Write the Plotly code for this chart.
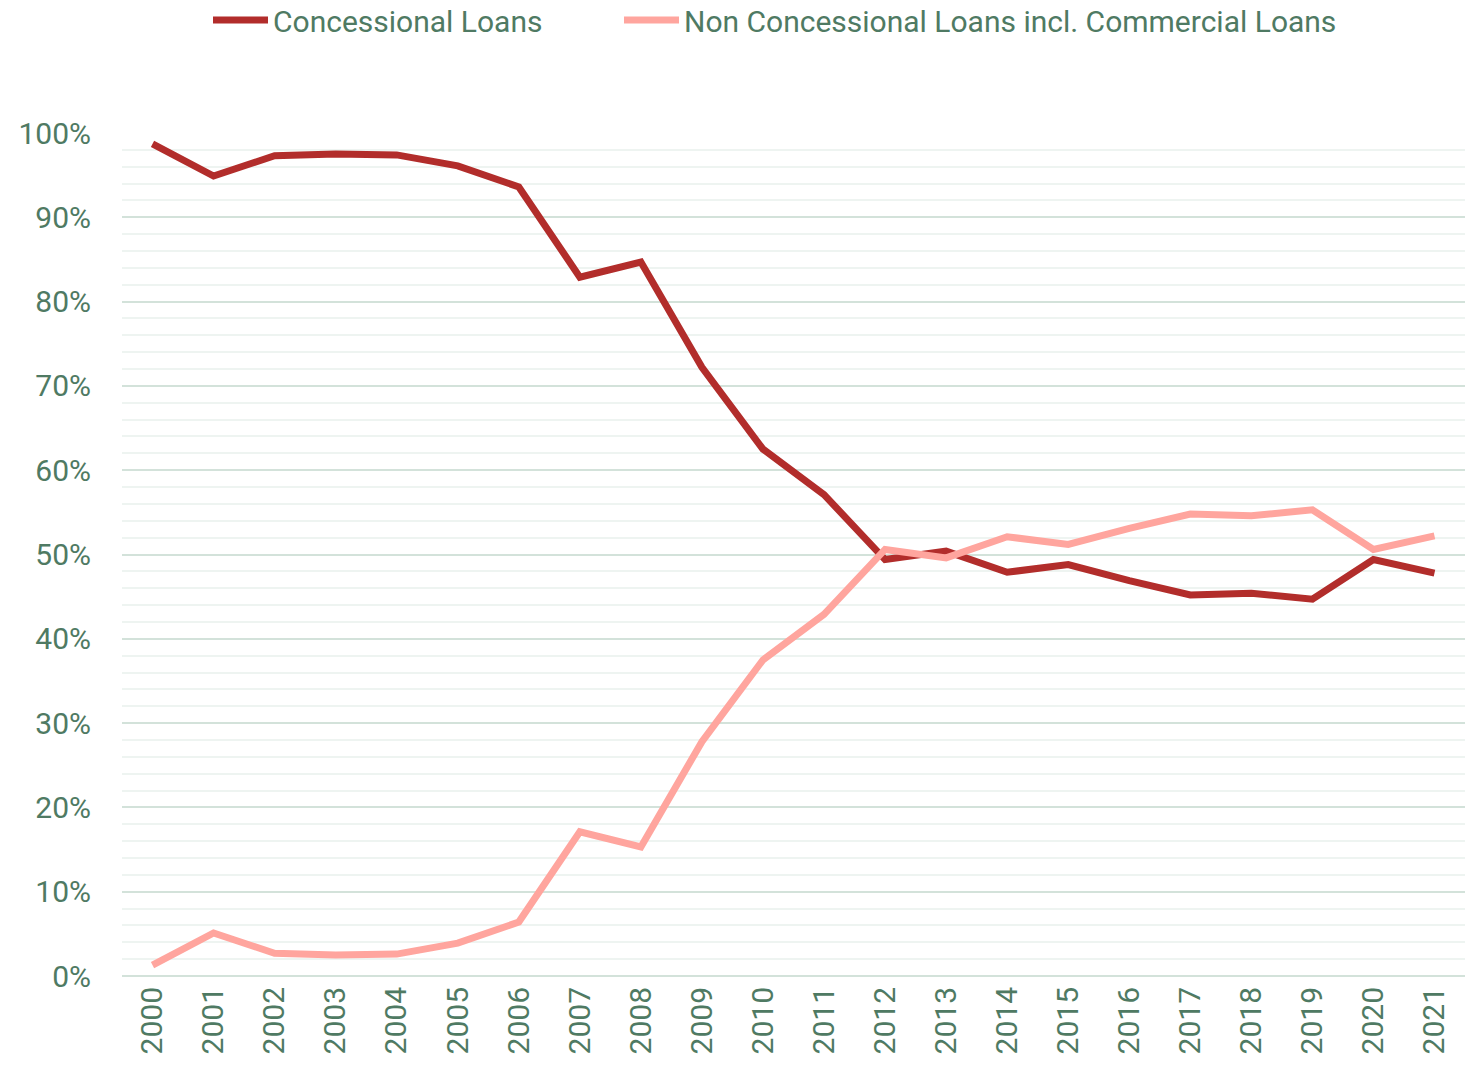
import plotly.graph_objects as go

years = [str(y) for y in range(2000, 2022)]
concessional = [98.7, 94.9, 97.3, 97.5, 97.4, 96.1, 93.6, 82.9, 84.7, 72.2, 62.5,
                57.1, 49.4, 50.4, 47.9, 48.8, 46.9, 45.2, 45.4, 44.7, 49.4, 47.8]
non_concessional = [1.3, 5.1, 2.7, 2.5, 2.6, 3.9, 6.4, 17.1, 15.3, 27.8, 37.5,
                    42.9, 50.6, 49.6, 52.1, 51.2, 53.1, 54.8, 54.6, 55.3, 50.6, 52.2]

font_color = "#4f7a63"
font_family = "Roboto, Open Sans, sans-serif"

fig = go.Figure()
fig.add_trace(go.Scatter(x=years, y=concessional, mode="lines", name="Concessional Loans",
                         line=dict(color="#b22d2b", width=7), legend="legend"))
fig.add_trace(go.Scatter(x=years, y=non_concessional, mode="lines",
                         name="Non Concessional Loans incl. Commercial Loans",
                         line=dict(color="#ffa59e", width=7), legend="legend2"))

legend_common = dict(orientation="h", xref="container", xanchor="left",
                     yref="container", y=1 - 20 / 1073, yanchor="middle",
                     font=dict(size=30, color=font_color), itemwidth=55,
                     bgcolor="rgba(0,0,0,0)")

fig.update_layout(
    width=1470, height=1073,
    margin=dict(l=122, r=5, t=133, b=97),
    paper_bgcolor="white", plot_bgcolor="white",
    font=dict(family=font_family, color=font_color, size=30),
    showlegend=True,
    legend=dict(x=208 / 1470, **legend_common),
    legend2=dict(x=619 / 1470, **legend_common),
)
fig.update_xaxes(type="category", range=[-0.5, 21.5], tickangle=-90,
                 showgrid=False, showline=False, ticks="", automargin=False,
                 ticklabelstandoff=4,
                 tickfont=dict(size=30, color=font_color))
fig.update_yaxes(range=[0, 100], dtick=10, ticksuffix="%", showgrid=True,
                 gridcolor="#d3e2da", gridwidth=1.5,
                 zeroline=True, zerolinecolor="#d3e2da", zerolinewidth=1.5,
                 minor=dict(dtick=2, showgrid=True, gridcolor="#eef4f1", gridwidth=1.5),
                 showline=False, ticks="", automargin=False, ticklabelstandoff=30,
                 tickfont=dict(size=30, color=font_color))

fig.write_html("out.html", config={"displayModeBar": False},
               post_script="document.body.style.margin='0';document.body.style.overflow='hidden';")
